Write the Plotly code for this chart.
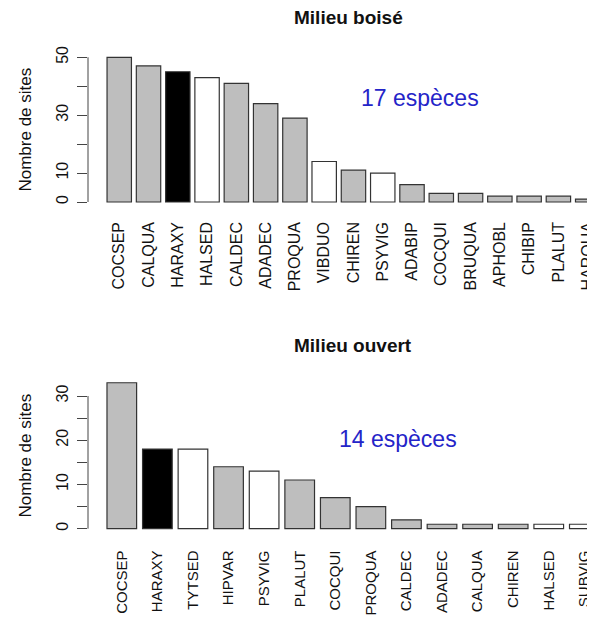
import plotly.graph_objects as go

# ---- data ----
top_species = ["COCSEP", "CALQUA", "HARAXY", "HALSED", "CALDEC", "ADADEC", "PROQUA",
               "VIBDUO", "CHIREN", "PSYVIG", "ADABIP", "COCQUI", "BRUQUA", "APHOBL",
               "CHIBIP", "PLALUT", "HARQUA"]
top_sites = [50, 47, 45, 43, 41, 34, 29, 14, 11, 10, 6, 3, 3, 2, 2, 2, 1]
top_group = ["g", "g", "k", "w", "g", "g", "g", "w", "g", "w", "g", "g", "g", "g", "g", "g", "g"]

bot_species = ["COCSEP", "HARAXY", "TYTSED", "HIPVAR", "PSYVIG", "PLALUT", "COCQUI",
               "PROQUA", "CALDEC", "ADADEC", "CALQUA", "CHIREN", "HALSED", "SUBVIG"]
bot_sites = [33, 18, 18, 14, 13, 11, 7, 5, 2, 1, 1, 1, 1, 1]
bot_group = ["g", "k", "w", "g", "w", "g", "g", "g", "g", "g", "g", "g", "w", "w"]

top_ticks = [0, 10, 20, 30, 40, 50]
top_ticktext = ["0", "10", "", "30", "", "50"]
bot_ticks = [0, 5, 10, 15, 20, 25, 30]
bot_ticktext = ["0", "", "10", "", "20", "", "30"]

titles = ["Milieu boisé", "Milieu ouvert"]
counts = ["17 espèces", "14 espèces"]

# ---- style ----
FILL = {"g": "#BEBEBE", "k": "#000000", "w": "#FFFFFF"}
FONT = "Liberation Sans, Arial, Helvetica, sans-serif"
AX = "#444444"
OFF = 8                      # page body margin
W, H = 595 - OFF, 619 - OFF  # figure size that fits in the window
LEFT = 88 - OFF              # y-axis line position (screen 88)

fig = go.Figure()

fig.add_trace(go.Bar(x=top_species, y=top_sites,
                     marker=dict(color=[FILL[g] for g in top_group],
                                 line=dict(color="#333333", width=1.2)),
                     xaxis="x", yaxis="y", showlegend=False))
fig.add_trace(go.Bar(x=bot_species, y=bot_sites,
                     marker=dict(color=[FILL[g] for g in bot_group],
                                 line=dict(color="#333333", width=1.2)),
                     xaxis="x2", yaxis="y2", showlegend=False))

def ydom(top_px, bot_px):
    return [1 - (bot_px - OFF) / H, 1 - (top_px - OFF) / H]

def px_x(sx):
    return (sx - 88) / (595 - 88)

common_x = dict(showline=False, ticks="", tickangle=-90, showgrid=False, zeroline=False,
                automargin=False,
                tickfont=dict(family=FONT, size=16, color="#111"),
                ticklabelstandoff=10, fixedrange=True)
common_y = dict(showline=False, ticks="outside", ticklen=10, tickwidth=1, tickcolor=AX,
                showgrid=False, zeroline=False, tickangle=-90, automargin=False,
                ticklabelstandoff=3,
                tickfont=dict(family=FONT, size=16, color="#111"),
                title=dict(text="Nombre de sites", font=dict(family=FONT, size=17, color="#111"),
                           standoff=17))

fig.update_layout(
    width=W, height=H, margin=dict(l=LEFT, r=0, t=0, b=0),
    paper_bgcolor="white", plot_bgcolor="white", bargap=1/6,
    font=dict(family=FONT),
    xaxis=dict(common_x, domain=[0, 1], anchor="y", range=[-1.067, 16.25]),
    yaxis=dict(common_y, domain=ydom(51.5, 207.8), anchor="x", range=[-2, 52],
               tickvals=top_ticks, ticktext=top_ticktext),
    xaxis2=dict(common_x, domain=[0, 1], anchor="y2", range=[-0.95, 13.3],
                ticklabelstandoff=12, tickfont=dict(family=FONT, size=15, color="#111")),
    yaxis2=dict(common_y, domain=ydom(376.9, 534.5), anchor="x2", range=[-1.32, 34.32],
                tickvals=bot_ticks, ticktext=bot_ticktext),
)

# axis lines spanning first to last tick (R style)
fig.add_shape(type="line", xref="x domain", yref="y", x0=0, x1=0,
              y0=top_ticks[0], y1=top_ticks[-1], line=dict(color=AX, width=1))
fig.add_shape(type="line", xref="x2 domain", yref="y2", x0=0, x1=0,
              y0=bot_ticks[0], y1=bot_ticks[-1], line=dict(color=AX, width=1))

# titles
fig.add_annotation(text="<b>" + titles[0] + "</b>", xref="paper", yref="paper",
                   x=px_x(348), y=1 - (17 - OFF) / H, xanchor="center", yanchor="middle",
                   showarrow=False, font=dict(family=FONT, size=19, color="#111"))
fig.add_annotation(text="<b>" + titles[1] + "</b>", xref="paper", yref="paper",
                   x=px_x(353), y=1 - (345 - OFF) / H, xanchor="center", yanchor="middle",
                   showarrow=False, font=dict(family=FONT, size=19, color="#111"))

# species counts
fig.add_annotation(text=counts[0], xref="x", yref="y", x=10.27, y=36, showarrow=False,
                   xanchor="center", yanchor="middle",
                   font=dict(family=FONT, size=23, color="#2424C8"))
fig.add_annotation(text=counts[1], xref="x2", yref="y2", x=7.77, y=20.3, showarrow=False,
                   xanchor="center", yanchor="middle",
                   font=dict(family=FONT, size=23, color="#2424C8"))

fig.write_html("out.html")
